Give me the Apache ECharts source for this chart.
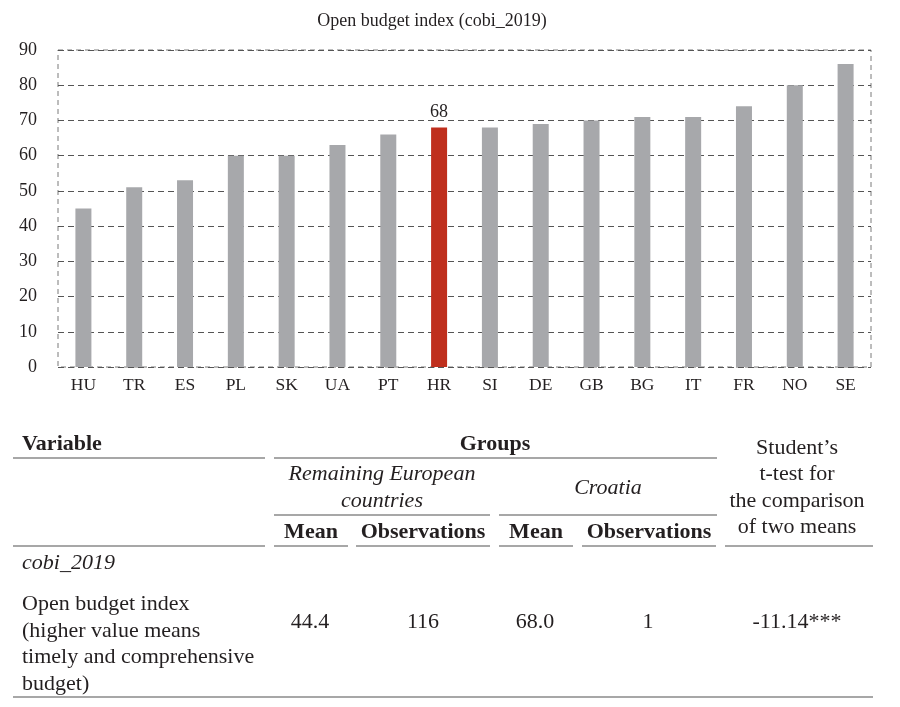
<!DOCTYPE html>
<html>
<head>
<meta charset="utf-8">
<script src="https://cdn.jsdelivr.net/npm/echarts@6/dist/echarts.min.js"></script>
<style>
html,body{margin:0;padding:0;background:#fff;}
#c{width:900px;height:707px;}
</style>
</head>
<body>
<div id="c"></div>
<script>
var categories = ['HU','TR','ES','PL','SK','UA','PT','HR','SI','DE','GB','BG','IT','FR','NO','SE'];
var values = [45,51,53,60,60,63,66,68,68,69,70,71,71,74,80,86];
var highlightCategory = 'HR';
var chartTitle = 'Open budget index (cobi_2019)';

var tableGroupNames = ['Remaining European countries','Croatia'];
var tableColumnNames = ['Mean','Observations','Mean','Observations'];
var tableVariableCode = 'cobi_2019';
var tableVariableLabel = ['Open budget index','(higher value means','timely and comprehensive','budget)'];
var tableRowValues = ['44.4','116','68.0','1','-11.14***'];
var tableTestHeader = ['Student\u2019s','t-test for','the comparison','of two means'];

var SERIF = '"Liberation Serif","DejaVu Serif",serif';
var GREY = '#a7a8ab';
var RED = '#bf2f1d';
var LINE = '#8a8a8a';

var chart = echarts.init(document.getElementById('c'));

function txt(x, y, s, opts) {
  opts = opts || {};
  return {
    type: 'text', x: x, y: y, silent: true,
    style: {
      text: s,
      fill: '#231f20',
      font: (opts.style || 'normal') + ' ' + (opts.weight || 'normal') + ' ' + (opts.size || 22) + 'px ' + SERIF,
      textAlign: opts.align || 'center',
      textVerticalAlign: 'middle'
    }
  };
}
function hline(x1, x2, y, w) {
  return { type: 'line', silent: true, shape: {x1: x1, y1: y, x2: x2, y2: y},
    style: {stroke: LINE, lineWidth: w || 1.5} };
}

var g = [];
// header lines
g.push(hline(13, 265, 458));
g.push(hline(274, 717, 458));
g.push(hline(274, 490, 515));
g.push(hline(499, 717, 515));
g.push(hline(13, 265, 546));
g.push(hline(274, 348, 546));
g.push(hline(356, 490, 546));
g.push(hline(499, 573, 546));
g.push(hline(582, 716, 546));
g.push(hline(725, 873, 546));
g.push(hline(13, 873, 697));

// header texts
g.push(txt(22, 444, 'Variable', {align: 'left', weight: 'bold'}));
g.push(txt(495, 444, 'Groups', {weight: 'bold'}));
var rem = tableGroupNames[0].split(' ');
g.push(txt(382, 474, rem[0] + ' ' + rem[1], {style: 'italic'}));
g.push(txt(382, 501, rem[2], {style: 'italic'}));
g.push(txt(608, 488, tableGroupNames[1], {style: 'italic'}));
var ty = [448, 474, 501, 527];
tableTestHeader.forEach(function (s, i) { g.push(txt(797, ty[i], s)); });
var colX = [311, 423, 536, 649];
tableColumnNames.forEach(function (s, i) { g.push(txt(colX[i], 532, s, {weight: 'bold'})); });

// body
g.push(txt(22, 563, tableVariableCode, {align: 'left', style: 'italic'}));
var ly = [604, 631, 657, 684];
tableVariableLabel.forEach(function (s, i) { g.push(txt(22, ly[i], s, {align: 'left'})); });
var vx = [310, 423, 535, 648, 797];
tableRowValues.forEach(function (s, i) { g.push(txt(vx[i], 622, s)); });

chart.setOption({
  animation: false,
  backgroundColor: '#fff',
  title: {
    text: chartTitle, left: 427, top: 7, textAlign: 'center',
    textStyle: {fontFamily: SERIF, fontWeight: 'normal', fontSize: 18, color: '#231f20'}
  },
  grid: {
    left: 58, right: 29, top: 50, bottom: 340, containLabel: false,
    show: true, borderColor: '#7a7a7a', borderWidth: 1, borderType: [5, 4]
  },
  xAxis: {
    type: 'category', data: categories, boundaryGap: true,
    axisLine: {show: false}, axisTick: {show: false},
    axisLabel: {fontFamily: SERIF, fontSize: 17.5, color: '#231f20', margin: 9, interval: 0}
  },
  yAxis: {
    type: 'value', min: 0, max: 90, interval: 10,
    axisLine: {show: false}, axisTick: {show: false},
    axisLabel: {fontFamily: SERIF, fontSize: 18, color: '#231f20', margin: 21},
    splitLine: {show: true, lineStyle: {color: '#555', type: [6, 4], width: 1}}
  },
  series: [{
    type: 'bar', barWidth: 16,
    data: values.map(function (v, i) {
      var isH = categories[i] === highlightCategory;
      return {
        value: v,
        itemStyle: {color: isH ? RED : GREY},
        label: isH ? {show: true, position: 'top', distance: 6, fontFamily: SERIF, fontSize: 18, color: '#231f20'} : {show: false}
      };
    })
  }],
  graphic: g
});
</script>
</body>
</html>
